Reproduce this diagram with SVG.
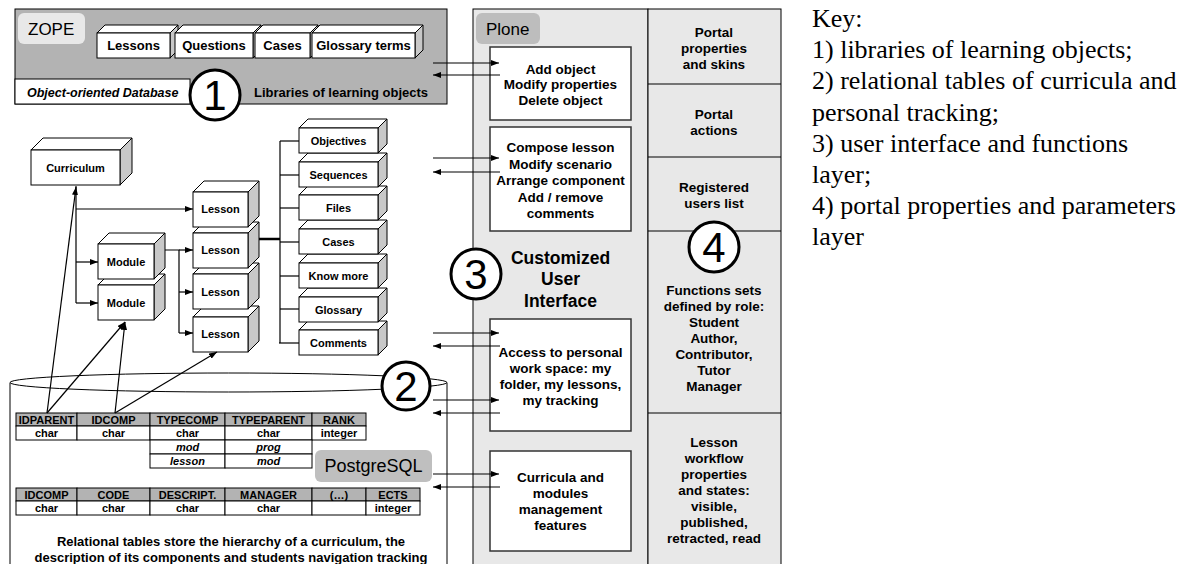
<svg xmlns="http://www.w3.org/2000/svg" width="1194" height="564" viewBox="0 0 1194 564">
<style>
text{font-family:"Liberation Sans",Arial,sans-serif;fill:#000}
.b{font-weight:bold}
.t11{font-size:11px;font-weight:bold;text-anchor:middle}
.t13{font-size:13px;font-weight:bold;text-anchor:middle}
.t135{font-size:13.5px;font-weight:bold;text-anchor:middle}
.tab{font-size:11px;font-weight:bold;text-anchor:middle}
.it{font-style:italic}
.lbl{font-size:17px}
.num{font-size:42px;text-anchor:middle}
.key{font-family:"Liberation Serif","Times New Roman",serif;font-size:26px}
.fr{fill:#fff;stroke:#000;stroke-width:1}
.tp{fill:#fff;stroke:#000;stroke-width:1}
.sd{fill:#c8c8c8;stroke:#000;stroke-width:1}
.pb{fill:#fff;stroke:#333;stroke-width:1.5}
.hd{fill:#b3b3b3;stroke:#000;stroke-width:1}
.cl{fill:#fff;stroke:#000;stroke-width:1}
.circ{fill:#fff;stroke:#000;stroke-width:3}
.ln{fill:none;stroke:#000;stroke-width:1.2}
.ar{fill:none;stroke:#000;stroke-width:1.2;marker-end:url(#ah)}
</style>
<defs>
<marker id="ah" markerWidth="8" markerHeight="6" refX="8" refY="3" orient="auto" markerUnits="userSpaceOnUse">
<path d="M0,0 L8,3 L0,6 z" fill="#000"/>
</marker>
</defs>

<!-- Plone and portal columns -->
<g id="plone-layer">
<rect x="473" y="9" width="175" height="560" fill="#e8e8e8" stroke="#000" stroke-width="1"/>
<rect x="476" y="13" width="64" height="31" rx="6" fill="#bdbdbd"/>
<text class="lbl" x="486" y="35">Plone</text>
</g>
<g id="portal-layer">
<rect x="648" y="9" width="133" height="560" fill="#e8e8e8" stroke="#000" stroke-width="1"/>
<line x1="648" y1="84" x2="781" y2="84" stroke="#000"/>
<line x1="648" y1="157" x2="781" y2="157" stroke="#000"/>
<line x1="648" y1="231" x2="781" y2="231" stroke="#000"/>
<line x1="648" y1="413" x2="781" y2="413" stroke="#000"/>
<text class="t135" x="714" y="37">Portal</text>
<text class="t135" x="714" y="53">properties</text>
<text class="t135" x="714" y="69">and skins</text>
<text class="t135" x="714" y="119">Portal</text>
<text class="t135" x="714" y="135">actions</text>
<text class="t135" x="714" y="192">Registered</text>
<text class="t135" x="714" y="208">users list</text>
<text class="t135" x="714" y="295">Functions sets</text>
<text class="t135" x="714" y="311">defined by role:</text>
<text class="t135" x="714" y="327">Student</text>
<text class="t135" x="714" y="343">Author,</text>
<text class="t135" x="714" y="359">Contributor,</text>
<text class="t135" x="714" y="375">Tutor</text>
<text class="t135" x="714" y="391">Manager</text>
<text class="t135" x="714" y="447">Lesson</text>
<text class="t135" x="714" y="463">workflow</text>
<text class="t135" x="714" y="479">properties</text>
<text class="t135" x="714" y="495">and states:</text>
<text class="t135" x="714" y="511">visible,</text>
<text class="t135" x="714" y="527">published,</text>
<text class="t135" x="714" y="543">retracted, read</text>
</g>
<g id="circle4">
<circle class="circ" cx="714" cy="247" r="25"/>
<text class="num" x="714" y="262">4</text>
</g>

<g id="box-add">
<rect class="pb" x="490" y="47" width="141" height="73"/>
<text class="t135" x="560.5" y="74">Add object</text>
<text class="t135" x="560.5" y="89">Modify properties</text>
<text class="t135" x="560.5" y="105">Delete object</text>
</g>
<g id="box-compose">
<rect class="pb" x="490" y="127" width="141" height="104"/>
<text class="t135" x="560.5" y="152">Compose lesson</text>
<text class="t135" x="560.5" y="169">Modify scenario</text>
<text class="t135" x="560.5" y="185">Arrange component</text>
<text class="t135" x="560.5" y="202">Add / remove</text>
<text class="t135" x="560.5" y="218">comments</text>
</g>
<g id="ui-title">
<text class="b" x="560.5" y="264" font-size="17.5" text-anchor="middle">Customized</text>
<text class="b" x="560.5" y="285" font-size="17.5" text-anchor="middle">User</text>
<text class="b" x="560.5" y="307" font-size="17.5" text-anchor="middle">Interface</text>
</g>
<g id="box-access">
<rect class="pb" x="490" y="319" width="141" height="112"/>
<text class="t135" x="560.5" y="357">Access to personal</text>
<text class="t135" x="560.5" y="373">work space: my</text>
<text class="t135" x="560.5" y="389">folder, my lessons,</text>
<text class="t135" x="560.5" y="405">my tracking</text>
</g>
<g id="box-curricula">
<rect class="pb" x="490" y="451" width="141" height="100"/>
<text class="t135" x="560.5" y="482">Curricula and</text>
<text class="t135" x="560.5" y="498">modules</text>
<text class="t135" x="560.5" y="514">management</text>
<text class="t135" x="560.5" y="530">features</text>
</g>
<g id="circle3">
<circle class="circ" cx="476" cy="274" r="25"/>
<text class="num" x="476" y="289">3</text>
</g>

<!-- ZOPE -->
<g id="zope">
<rect x="15" y="9" width="432" height="95" fill="#b3b3b3" stroke="#000" stroke-width="1"/>
<rect x="15" y="79" width="175" height="25" fill="#fff" stroke="#000" stroke-width="1"/>
<rect x="18" y="13" width="67" height="31" rx="6" fill="#e8e8e8"/>
<text class="lbl" x="28" y="35">ZOPE</text>
<text class="b it" x="27" y="97" font-size="12.5">Object-oriented Database</text>
<text class="t13" x="341" y="97">Libraries of learning objects</text>
</g>
<g id="zope-lessons">
<polygon class="tp" points="97,33 105,25 178,25 170,33"/>
<polygon class="sd" points="170,33 178,25 178,50 170,58"/>
<rect class="fr" x="97" y="33" width="73" height="25"/>
<text class="t13" x="133.5" y="50">Lessons</text>
</g>
<g id="zope-questions">
<polygon class="tp" points="175,33 183,25 261,25 253,33"/>
<polygon class="sd" points="253,33 261,25 261,50 253,58"/>
<rect class="fr" x="175" y="33" width="78" height="25"/>
<text class="t13" x="214" y="50">Questions</text>
</g>
<g id="zope-cases">
<polygon class="tp" points="255,33 263,25 318,25 310,33"/>
<polygon class="sd" points="310,33 318,25 318,50 310,58"/>
<rect class="fr" x="255" y="33" width="55" height="25"/>
<text class="t13" x="282.5" y="50">Cases</text>
</g>
<g id="zope-glossary">
<polygon class="tp" points="312,33 320,25 423,25 415,33"/>
<polygon class="sd" points="415,33 423,25 423,50 415,58"/>
<rect class="fr" x="312" y="33" width="103" height="25"/>
<text class="t13" x="363.5" y="50">Glossary terms</text>
</g>
<g id="circle1">
<circle class="circ" cx="215" cy="95" r="25"/>
<text class="num" x="215" y="110">1</text>
</g>

<!-- Curriculum tree -->
<g id="curriculum">
<polygon class="tp" points="31,150 43,138 132,138 120,150"/>
<polygon class="sd" points="120,150 132,138 132,173 120,185"/>
<rect class="fr" x="31" y="150" width="89" height="35"/>
<text class="t11" x="75.5" y="172">Curriculum</text>
</g>
<g id="module2">
<polygon class="tp" points="98,285 109,274 165,274 154,285"/>
<polygon class="sd" points="154,285 165,274 165,309 154,320"/>
<rect class="fr" x="98" y="285" width="56" height="35"/>
<text class="t11" x="126" y="307">Module</text>
</g>
<g id="module1">
<polygon class="tp" points="98,244 109,233 165,233 154,244"/>
<polygon class="sd" points="154,244 165,233 165,268 154,279"/>
<rect class="fr" x="98" y="244" width="56" height="35"/>
<text class="t11" x="126" y="266">Module</text>
</g>
<g id="lesson4">
<polygon class="tp" points="193,317 204,306 259,306 248,317"/>
<polygon class="sd" points="248,317 259,306 259,341 248,352"/>
<rect class="fr" x="193" y="317" width="55" height="35"/>
<text class="t11" x="220.5" y="338">Lesson</text>
</g>
<g id="lesson3">
<polygon class="tp" points="193,274 204,263 259,263 248,274"/>
<polygon class="sd" points="248,274 259,263 259,298 248,309"/>
<rect class="fr" x="193" y="274" width="55" height="35"/>
<text class="t11" x="220.5" y="296">Lesson</text>
</g>
<g id="lesson2">
<polygon class="tp" points="193,233 204,222 259,222 248,233"/>
<polygon class="sd" points="248,233 259,222 259,257 248,268"/>
<rect class="fr" x="193" y="233" width="55" height="35"/>
<text class="t11" x="220.5" y="254">Lesson</text>
</g>
<g id="lesson1">
<polygon class="tp" points="193,192 204,181 259,181 248,192"/>
<polygon class="sd" points="248,192 259,181 259,216 248,227"/>
<rect class="fr" x="193" y="192" width="55" height="35"/>
<text class="t11" x="220.5" y="213">Lesson</text>
</g>
<g id="item-comments">
<polygon class="tp" points="299,330 308,321 387,321 378,330"/>
<polygon class="sd" points="378,330 387,321 387,346 378,355"/>
<rect class="fr" x="299" y="330" width="79" height="25"/>
<text class="t11" x="338.5" y="347">Comments</text>
</g>
<g id="item-glossary">
<polygon class="tp" points="299,297 308,288 387,288 378,297"/>
<polygon class="sd" points="378,297 387,288 387,313 378,322"/>
<rect class="fr" x="299" y="297" width="79" height="25"/>
<text class="t11" x="338.5" y="314">Glossary</text>
</g>
<g id="item-knowmore">
<polygon class="tp" points="299,263 308,254 387,254 378,263"/>
<polygon class="sd" points="378,263 387,254 387,279 378,288"/>
<rect class="fr" x="299" y="263" width="79" height="25"/>
<text class="t11" x="338.5" y="280">Know more</text>
</g>
<g id="item-cases">
<polygon class="tp" points="299,229 308,220 387,220 378,229"/>
<polygon class="sd" points="378,229 387,220 387,245 378,254"/>
<rect class="fr" x="299" y="229" width="79" height="25"/>
<text class="t11" x="338.5" y="246">Cases</text>
</g>
<g id="item-files">
<polygon class="tp" points="299,195 308,186 387,186 378,195"/>
<polygon class="sd" points="378,195 387,186 387,211 378,220"/>
<rect class="fr" x="299" y="195" width="79" height="25"/>
<text class="t11" x="338.5" y="212">Files</text>
</g>
<g id="item-sequences">
<polygon class="tp" points="299,162 308,153 387,153 378,162"/>
<polygon class="sd" points="378,162 387,153 387,178 378,187"/>
<rect class="fr" x="299" y="162" width="79" height="25"/>
<text class="t11" x="338.5" y="179">Sequences</text>
</g>
<g id="item-objectives">
<polygon class="tp" points="299,128 308,119 387,119 378,128"/>
<polygon class="sd" points="378,128 387,119 387,144 378,153"/>
<rect class="fr" x="299" y="128" width="79" height="25"/>
<text class="t11" x="338.5" y="145">Objectives</text>
</g>

<!-- PostgreSQL cylinder -->
<g id="postgres">
<path d="M10,382.5 L10,570 L447,570 L447,382.5" fill="#fff" stroke="#000" stroke-width="1"/>
<ellipse cx="228.5" cy="382.5" rx="218.5" ry="9.5" fill="#fff" stroke="#000" stroke-width="1"/>
<rect x="315" y="450" width="117" height="32" rx="6" fill="#bfbfbf"/>
<text x="373.5" y="472" font-size="18" text-anchor="middle">PostgreSQL</text>
<text class="t13" x="231" y="546">Relational tables store the hierarchy of a curriculum, the</text>
<text class="t13" x="231" y="562">description of its components and students navigation tracking</text>
</g>
<g id="table-hierarchy">
<rect class="hd" x="16" y="413" width="61" height="13"/>
<rect class="hd" x="77" y="413" width="73" height="13"/>
<rect class="hd" x="150" y="413" width="75" height="13"/>
<rect class="hd" x="225" y="413" width="87" height="13"/>
<rect class="hd" x="312" y="413" width="54" height="13"/>
<rect class="cl" x="16" y="426" width="61" height="14"/>
<rect class="cl" x="77" y="426" width="73" height="14"/>
<rect class="cl" x="150" y="426" width="75" height="14"/>
<rect class="cl" x="225" y="426" width="87" height="14"/>
<rect class="cl" x="312" y="426" width="54" height="14"/>
<rect class="cl" x="150" y="440" width="75" height="14"/>
<rect class="cl" x="225" y="440" width="87" height="14"/>
<rect class="cl" x="150" y="454" width="75" height="14"/>
<rect class="cl" x="225" y="454" width="87" height="14"/>
<text class="tab" x="46.5" y="424">IDPARENT</text>
<text class="tab" x="113.5" y="424">IDCOMP</text>
<text class="tab" x="187.5" y="424">TYPECOMP</text>
<text class="tab" x="268.5" y="424">TYPEPARENT</text>
<text class="tab" x="339" y="424">RANK</text>
<text class="tab" x="46.5" y="437">char</text>
<text class="tab" x="113.5" y="437">char</text>
<text class="tab" x="187.5" y="437">char</text>
<text class="tab" x="268.5" y="437">char</text>
<text class="tab" x="339" y="437">integer</text>
<text class="tab it" x="187.5" y="451">mod</text>
<text class="tab it" x="268.5" y="451">prog</text>
<text class="tab it" x="187.5" y="465">lesson</text>
<text class="tab it" x="268.5" y="465">mod</text>
</g>
<g id="table-components">
<rect class="hd" x="16" y="488" width="61" height="13"/>
<rect class="hd" x="77" y="488" width="73" height="13"/>
<rect class="hd" x="150" y="488" width="75" height="13"/>
<rect class="hd" x="225" y="488" width="87" height="13"/>
<rect class="hd" x="312" y="488" width="54" height="13"/>
<rect class="hd" x="366" y="488" width="54" height="13"/>
<rect class="cl" x="16" y="501" width="61" height="14"/>
<rect class="cl" x="77" y="501" width="73" height="14"/>
<rect class="cl" x="150" y="501" width="75" height="14"/>
<rect class="cl" x="225" y="501" width="87" height="14"/>
<rect class="cl" x="312" y="501" width="54" height="14"/>
<rect class="cl" x="366" y="501" width="54" height="14"/>
<text class="tab" x="46.5" y="499">IDCOMP</text>
<text class="tab" x="113.5" y="499">CODE</text>
<text class="tab" x="187.5" y="499">DESCRIPT.</text>
<text class="tab" x="268.5" y="499">MANAGER</text>
<text class="tab" x="339" y="499">(…)</text>
<text class="tab" x="393" y="499">ECTS</text>
<text class="tab" x="46.5" y="512">char</text>
<text class="tab" x="113.5" y="512">char</text>
<text class="tab" x="187.5" y="512">char</text>
<text class="tab" x="268.5" y="512">char</text>
<text class="tab" x="393" y="512">integer</text>
</g>
<g id="circle2">
<circle class="circ" cx="406" cy="386" r="24"/>
<text class="num" x="406" y="401">2</text>
</g>

<!-- Connectors -->
<g id="connectors">
<polyline class="ln" points="76,186 76,303"/>
<line class="ar" x1="76" y1="209" x2="193" y2="209"/>
<line class="ar" x1="76" y1="262" x2="98" y2="262"/>
<line class="ar" x1="76" y1="303" x2="98" y2="303"/>
<polyline class="ln" points="165,250 179,250 179,333" stroke-width="1.8"/>
<line class="ar" x1="179" y1="250" x2="193" y2="250"/>
<line class="ar" x1="179" y1="292" x2="193" y2="292"/>
<line class="ar" x1="179" y1="333" x2="193" y2="333"/>
<line x1="259" y1="239" x2="280" y2="239" stroke="#000" stroke-width="2.5"/>
<line class="ln" x1="280" y1="141" x2="280" y2="343"/>
<line class="ln" x1="280" y1="141" x2="299" y2="141"/>
<line class="ln" x1="280" y1="175" x2="299" y2="175"/>
<line class="ln" x1="280" y1="208" x2="299" y2="208"/>
<line class="ln" x1="280" y1="242" x2="299" y2="242"/>
<line class="ln" x1="280" y1="276" x2="299" y2="276"/>
<line class="ln" x1="280" y1="309" x2="299" y2="309"/>
<line class="ln" x1="279" y1="343" x2="299" y2="343" stroke-width="2"/>
<line class="ar" x1="47" y1="413" x2="76" y2="187"/>
<line class="ar" x1="47" y1="413" x2="125" y2="322"/>
<line class="ar" x1="115" y1="413" x2="125" y2="322"/>
<line class="ar" x1="115" y1="413" x2="217" y2="352"/>
<line class="ar" x1="433" y1="63" x2="499" y2="63"/>
<line class="ar" x1="500" y1="75" x2="433" y2="75"/>
<line class="ar" x1="433" y1="158" x2="499" y2="158"/>
<line class="ar" x1="500" y1="172" x2="433" y2="172"/>
<line class="ar" x1="433" y1="333" x2="499" y2="333"/>
<line class="ar" x1="500" y1="346" x2="433" y2="346"/>
<line class="ar" x1="433" y1="400" x2="499" y2="400"/>
<line class="ar" x1="500" y1="413" x2="433" y2="413"/>
<line class="ar" x1="433" y1="474" x2="499" y2="474"/>
<line class="ar" x1="500" y1="487" x2="433" y2="487"/>
</g>

<!-- Key -->
<g id="key">
<text class="key" x="812" y="27">Key:</text>
<text class="key" x="812" y="58">1) libraries of learning objects;</text>
<text class="key" x="812" y="89">2) relational tables of curricula and</text>
<text class="key" x="812" y="121">personal tracking;</text>
<text class="key" x="812" y="152">3) user interface and functions</text>
<text class="key" x="812" y="183">layer;</text>
<text class="key" x="812" y="214">4) portal properties and parameters</text>
<text class="key" x="812" y="245">layer</text>
</g>
</svg>
